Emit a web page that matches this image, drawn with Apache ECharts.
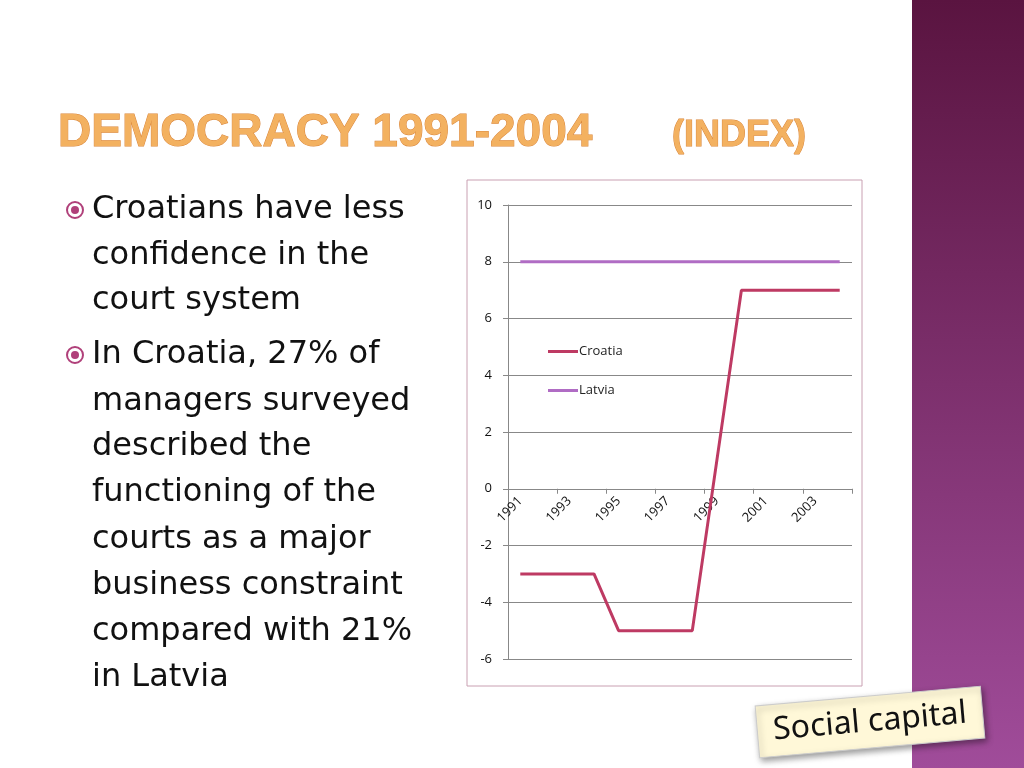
<!DOCTYPE html>
<html><head><meta charset="utf-8">
<script src="https://cdn.jsdelivr.net/npm/echarts@6/dist/echarts.min.js"></script>
<style>html,body{margin:0;padding:0;background:#fff}#container{width:1024px;height:768px}</style>
</head><body><div id="container"></div>
<script>
var years = ['1991','1992','1993','1994','1995','1996','1997','1998','1999','2000','2001','2002','2003','2004'];
var croatia = [-3, -3, -3, -3, -5, -5, -5, -5, 1, 7, 7, 7, 7, 7];
var latvia = [8, 8, 8, 8, 8, 8, 8, 8, 8, 8, 8, 8, 8, 8];
var bulletLines = [
    ['Croatians have less', true], ['confidence in the', false], ['court system', false],
    ['In Croatia, 27% of', true], ['managers surveyed', false], ['described the', false],
    ['functioning of the', false], ['courts as a major', false], ['business constraint', false],
    ['compared with 21%', false], ['in Latvia', false]
];
var lineY = [210, 256, 301, 355, 402, 447, 493, 540, 586, 632, 678];

var chart = echarts.init(document.getElementById('container'));
var font = '"DejaVu Sans", sans-serif';
var graphics = [
    { type: 'rect', shape: { x: 912, y: 0, width: 112, height: 768 }, z: -1,
      style: { fill: new echarts.graphic.LinearGradient(0, 0, 0, 1, [
          { offset: 0, color: '#5a1440' }, { offset: 1, color: '#a04c9a' }]) } },
    { type: 'rect', shape: { x: 467, y: 180, width: 395, height: 506 }, z: -1,
      style: { fill: 'none', stroke: '#c9a0b2', lineWidth: 1 } },
    { type: 'text', x: 58, y: 110, style: { text: 'DEMOCRACY 1991-2004', font: 'bold 46px "Liberation Sans", sans-serif',
      fill: '#f3b160', stroke: '#d9853a', lineWidth: 1 } },
    { type: 'text', x: 672, y: 118, style: { text: '(INDEX)', font: 'bold 36px "Liberation Sans", sans-serif',
      fill: '#f3b160', stroke: '#d9853a', lineWidth: 1 } },
    { type: 'group', x: 870, y: 722, rotation: 5 * Math.PI / 180, children: [
        { type: 'rect', shape: { x: -113, y: -26, width: 226, height: 52 },
          style: { fill: '#fff8d8', stroke: '#cccccc', shadowBlur: 6, shadowOffsetX: 2, shadowOffsetY: 3, shadowColor: 'rgba(0,0,0,0.4)' } },
        { type: 'text', x: 0, y: 0, style: { text: 'Social capital', font: '32px "Noto Sans", sans-serif', fill: '#111',
          align: 'center', verticalAlign: 'middle' } }
    ] }
];
bulletLines.forEach(function (l, i) {
    graphics.push({ type: 'text', x: 92, y: lineY[i], style: { text: l[0], font: '32px ' + font, fill: '#111', verticalAlign: 'middle' } });
    if (l[1]) {
        graphics.push({ type: 'circle', shape: { cx: 75, cy: lineY[i], r: 8 }, style: { fill: 'none', stroke: '#b0407a', lineWidth: 2 } });
        graphics.push({ type: 'circle', shape: { cx: 75, cy: lineY[i], r: 4 }, style: { fill: '#b0407a' } });
    }
});

chart.setOption({
    animation: false,
    textStyle: { fontFamily: '"Open Sans", sans-serif' },
    graphic: graphics,
    grid: { left: 508, right: 172, top: 205, bottom: 109 },
    legend: { orient: 'vertical', left: 543, top: 340, itemGap: 26, icon: 'rect', itemWidth: 30, itemHeight: 3,
        itemStyle: { borderWidth: 0 }, textStyle: { fontSize: 13, color: '#222', padding: [0, 0, 0, -4] }, data: ['Croatia', 'Latvia'] },
    xAxis: { type: 'category', data: years, boundaryGap: true,
        axisLine: { onZero: true, lineStyle: { color: '#888' } },
        axisTick: { show: true, lineStyle: { color: '#888' } },
        axisLabel: { interval: 1, rotate: 45, fontSize: 13, color: '#111', margin: -160 } },
    yAxis: { type: 'value', min: -6, max: 10, interval: 2,
        axisLine: { show: true, lineStyle: { color: '#888' } }, axisTick: { show: true, lineStyle: { color: '#888' } },
        splitLine: { lineStyle: { color: '#888' } },
        axisLabel: { fontSize: 13, color: '#111', margin: 16 } },
    series: [
        { name: 'Croatia', type: 'line', data: croatia, symbol: 'none', lineStyle: { color: '#be3a63', width: 3 }, itemStyle: { color: '#be3a63' } },
        { name: 'Latvia', type: 'line', data: latvia, symbol: 'none', lineStyle: { color: '#b06cc4', width: 3 }, itemStyle: { color: '#b06cc4' } }
    ]
});
</script></body></html>
